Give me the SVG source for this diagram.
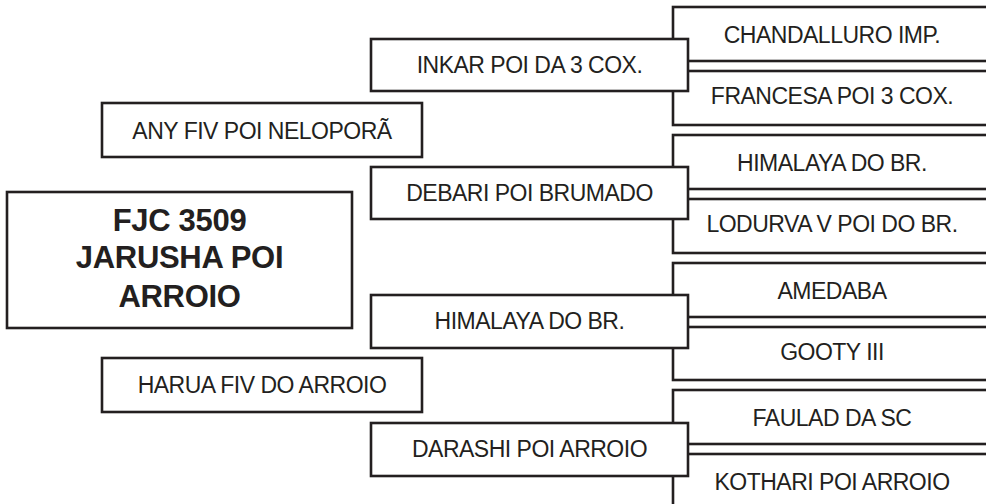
<svg xmlns="http://www.w3.org/2000/svg" width="986" height="504" viewBox="0 0 986 504">
<style>
rect{fill:#fff;stroke:#231f20;stroke-width:2.6}
text{font-family:"Liberation Sans",Arial,sans-serif;font-size:23px;letter-spacing:-0.5px;fill:#231f20;text-anchor:middle}
.main{font-weight:bold;font-size:31px;letter-spacing:-0.3px}
</style>
<rect x="0" y="0" width="986" height="504" style="stroke:none"/>
<g id="n-chandalluro"><rect x="673" y="7" width="330" height="54"/><text x="832" y="43">CHANDALLURO IMP.</text></g>
<g id="n-francesa"><rect x="673" y="71" width="330" height="54"/><text x="832" y="104">FRANCESA POI 3 COX.</text></g>
<g id="n-himalaya2"><rect x="673" y="135" width="330" height="54"/><text x="832" y="171">HIMALAYA DO BR.</text></g>
<g id="n-lodurva"><rect x="673" y="199" width="330" height="54"/><text x="832" y="232">LODURVA V POI DO BR.</text></g>
<g id="n-amedaba"><rect x="673" y="263" width="330" height="54"/><text x="832" y="299">AMEDABA</text></g>
<g id="n-gooty"><rect x="673" y="327" width="330" height="53"/><text x="832" y="360">GOOTY III</text></g>
<g id="n-faulad"><rect x="673" y="390" width="330" height="54"/><text x="832" y="426">FAULAD DA SC</text></g>
<g id="n-kothari"><rect x="673" y="454" width="330" height="60"/><text x="832" y="490">KOTHARI POI ARROIO</text></g>
<g id="n-inkar"><rect x="371" y="39" width="317" height="52"/><text x="529.5" y="73">INKAR POI DA 3 COX.</text></g>
<g id="n-debari"><rect x="371" y="167" width="317" height="52"/><text x="529.5" y="201">DEBARI POI BRUMADO</text></g>
<g id="n-himalaya"><rect x="371" y="295" width="317" height="53"/><text x="529.5" y="329">HIMALAYA DO BR.</text></g>
<g id="n-darashi"><rect x="371" y="423" width="317" height="53"/><text x="529.5" y="457">DARASHI POI ARROIO</text></g>
<g id="n-any"><rect x="102" y="103" width="320" height="54"/><text x="262" y="139">ANY FIV POI NELOPORÃ</text></g>
<g id="n-harua"><rect x="102" y="358" width="320" height="54"/><text x="262" y="393">HARUA FIV DO ARROIO</text></g>
<g id="n-main"><rect x="7" y="192" width="345" height="136"/><text class="main" x="179.5" y="231">FJC 3509</text><text class="main" x="179.5" y="268">JARUSHA POI</text><text class="main" x="179.5" y="307">ARROIO</text></g>
</svg>
